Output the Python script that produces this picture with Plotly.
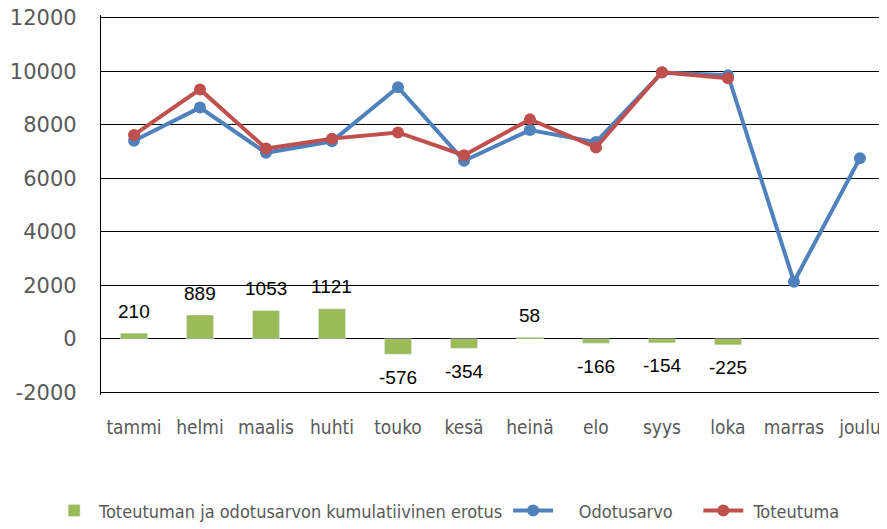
import plotly.graph_objects as go

months = ["tammi", "helmi", "maalis", "huhti", "touko", "kesä",
          "heinä", "elo", "syys", "loka", "marras", "joulu"]
odotusarvo = [7400, 8640, 6950, 7380, 9400, 6650, 7800, 7350, 9950, 9850, 2130, 6750]
toteutuma = [7620, 9320, 7110, 7480, 7710, 6860, 8200, 7150, 9960, 9740, None, None]
erotus = [210, 889, 1053, 1121, -576, -354, 58, -166, -154, -225, None, None]
y_ticks = [-2000, 0, 2000, 4000, 6000, 8000, 10000, 12000]

narrow = "DejaVu Sans Condensed, Liberation Sans Narrow, Liberation Sans, sans-serif"
sp = "\u00a0"

fig = go.Figure()

fig.add_bar(x=months, y=erotus, name="Toteutuman ja odotusarvon kumulatiivinen erotus",
            marker_color="#9BBB59", width=0.41)
fig.add_scatter(x=months, y=odotusarvo, name=sp * 4 + "Odotusarvo" + sp * 4,
                mode="lines+markers",
                line=dict(color="#4F81BD", width=4), marker=dict(size=12, color="#4F81BD"))
fig.add_scatter(x=months, y=toteutuma, name=sp + "Toteutuma", mode="lines+markers",
                line=dict(color="#C0504D", width=4), marker=dict(size=12, color="#C0504D"))

# arvojen tekstit pylväiden ylle / alle
for m, v in zip(months, erotus):
    if v is None:
        continue
    fig.add_annotation(x=m, y=v, text=str(v), showarrow=False,
                       yshift=22 if v >= 0 else -23,
                       font=dict(family="Liberation Sans", size=19, color="black"))

# sivun body-marginaali (8px) huomioitu
fig.update_layout(
    width=887, height=529,
    margin=dict(l=93, r=8, t=7, b=139),
    plot_bgcolor="white", paper_bgcolor="white",
    showlegend=True,
    legend=dict(orientation="h", x=-0.066, y=-0.305, xanchor="left", yanchor="middle",
                font=dict(family=narrow, size=18, color="#595959"),
                itemwidth=40, traceorder="normal"),
)
fig.update_xaxes(range=[-0.5, 11.41], showgrid=False, zeroline=False, showline=False,
                 ticks="", ticklabelstandoff=19, automargin=False,
                 tickfont=dict(family=narrow, size=19, color="#595959"))
# väljempi alue, jotta reunimmaiset ruudukkoviivat (12000, -2000) piirtyvät
fig.update_yaxes(range=[-2100, 12100], tickvals=y_ticks, ticktext=[str(v) for v in y_ticks],
                 showgrid=True, automargin=False, ticklabeloverflow="allow",
                 gridcolor="black", gridwidth=1.3, zeroline=True, zerolinecolor="black",
                 zerolinewidth=1.3, showline=True, linecolor="black", linewidth=1.3,
                 ticks="", ticklabelstandoff=19,
                 tickfont=dict(family="DejaVu Sans", size=21, color="#595959"))

fig.write_html("out.html")
